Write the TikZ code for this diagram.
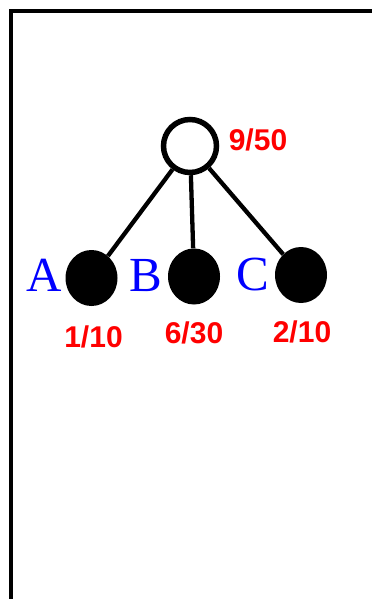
\documentclass[tikz,border=0pt]{standalone}
\usepackage{fontspec}
\setmainfont{Liberation Serif}
\newfontfamily\numfont{Liberation Sans}
\usepackage{tikz}
\usetikzlibrary{positioning, shapes.geometric}

\tikzset{
    root/.style={circle, draw, line width=5.5pt, fill=white, minimum size=53pt, inner sep=0pt},
    leaf/.style={ellipse, fill=black, minimum width=52pt, minimum height=56pt, inner sep=0pt},
    letter/.style={text=blue, inner sep=0pt, font=\fontsize{49}{53}\selectfont},
    ratio/.style={text=red, inner sep=0pt, font=\numfont\bfseries\fontsize{30}{34}\selectfont},
    edge/.style={line width=4.3pt}
}

\begin{document}
\begin{tikzpicture}[x=1pt, y=-1pt]
    \useasboundingbox (0,0) rectangle (372,599);

    % frame
    \draw[line width=4.3pt] (11,599) -- (11,11) -- (372,11);

    % root
    \node[root] (top) at (190,146) {};
    \node[ratio] (topval) at (258,140) {9/50};

    % leaves
    \node[leaf] (a) at (91.5,278) {};
    \node[leaf] (b) at (194,276.5) {};
    \node[leaf] (c) at (301,275) {};

    \node[letter] (alab) at (44.5,275.5) {A};
    \node[letter] (blab) at (145.5,275.5) {B};
    \node[letter] (clab) at (252.5,275) {C};

    \node[ratio] (aval) at (93.5,337) {1/10};
    \node[ratio] (bval) at (194,333) {6/30};
    \node[ratio] (cval) at (302,332) {2/10};

    % edges
    \draw[edge] (top) -- (a);
    \draw[edge] (top) -- (b);
    \draw[edge] (top) -- (c);
\end{tikzpicture}
\end{document}
